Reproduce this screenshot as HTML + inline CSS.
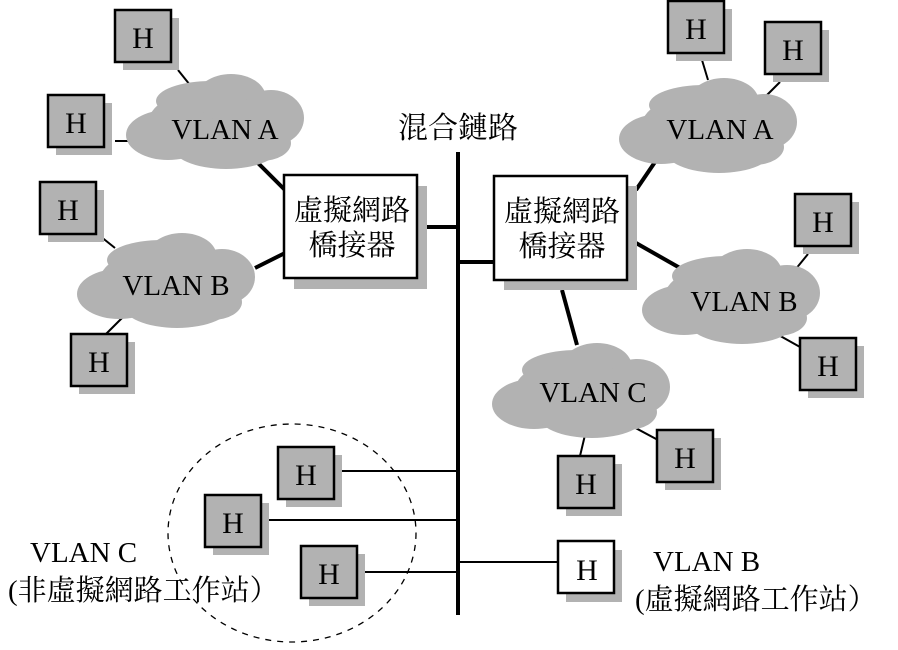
<!DOCTYPE html>
<html><head><meta charset="utf-8"><style>
body{margin:0;background:#fff;}
svg text{font-family:"Liberation Serif","Noto Serif CJK SC","Noto Sans CJK TC",serif;fill:#000;}
</style></head><body>
<svg width="898" height="645" viewBox="0 0 898 645" xmlns="http://www.w3.org/2000/svg">
<defs>
<g id="cloud" fill="#b2b2b2">
<ellipse cx="95" cy="48" rx="72" ry="33"/>
<ellipse cx="85" cy="28" rx="55" ry="20"/>
<ellipse cx="105" cy="25" rx="35" ry="24"/>
<ellipse cx="42" cy="62" rx="42" ry="25"/>
<ellipse cx="145" cy="45" rx="33" ry="28"/>
<ellipse cx="100" cy="72" rx="55" ry="24"/>
<ellipse cx="135" cy="70" rx="30" ry="18"/>
</g>
<g id="h">
<rect x="9" y="9" width="56" height="52" fill="#b2b2b2"/>
<rect x="1" y="1" width="56" height="52" fill="#b2b2b2" stroke="#000" stroke-width="2.5"/>
<text x="29" y="39" font-size="30" text-anchor="middle">H</text>
</g>
</defs>
<g stroke="#000" fill="none">
<g stroke-width="2">
<line x1="178" y1="70" x2="190" y2="85"/>
<line x1="115" y1="141" x2="130" y2="141"/>
<line x1="95" y1="232" x2="115" y2="248"/>
<line x1="105" y1="335" x2="125" y2="315"/>
<line x1="702" y1="60" x2="708" y2="80"/>
<line x1="780" y1="82" x2="766" y2="96"/>
<line x1="808" y1="254" x2="795" y2="270"/>
<line x1="775" y1="333" x2="800" y2="347"/>
<line x1="630" y1="425" x2="658" y2="440"/>
<line x1="585" y1="435" x2="580" y2="456"/>
<line x1="336" y1="471" x2="458" y2="471"/>
<line x1="263" y1="520" x2="458" y2="520"/>
<line x1="359" y1="572" x2="458" y2="572"/>
<line x1="458" y1="562" x2="558" y2="562"/>
</g>
<g stroke-width="4">
<line x1="255" y1="160" x2="285" y2="190"/>
<line x1="255" y1="268" x2="285" y2="253"/>
<line x1="417" y1="227" x2="458" y2="227"/>
<line x1="458" y1="262" x2="495" y2="262"/>
<line x1="655" y1="162" x2="636" y2="190"/>
<line x1="636" y1="243" x2="680" y2="268"/>
<line x1="562" y1="290" x2="577" y2="345"/>
<line x1="458" y1="152" x2="458" y2="615"/>
</g>
</g>
<use href="#cloud" transform="translate(126,73)"/>
<use href="#cloud" transform="translate(77,232)"/>
<use href="#cloud" transform="translate(619,77)"/>
<use href="#cloud" transform="translate(642,248)"/>
<use href="#cloud" transform="translate(492,342)"/>
<g font-size="29" text-anchor="middle">
<text x="225" y="139">VLAN A</text>
<text x="176" y="295">VLAN B</text>
<text x="720" y="139">VLAN A</text>
<text x="744" y="311">VLAN B</text>
<text x="593" y="402">VLAN C</text>
</g>
<rect x="294" y="186" width="133" height="103" fill="#b2b2b2"/>
<rect x="284" y="175" width="133" height="103" fill="#fff" stroke="#000" stroke-width="2.5"/>
<rect x="504" y="186" width="133" height="104" fill="#b2b2b2"/>
<rect x="494" y="176" width="133" height="104" fill="#fff" stroke="#000" stroke-width="2.5"/>
<g font-size="29" text-anchor="middle">
<text x="352" y="220">虛擬網路</text>
<text x="352" y="255">橋接器</text>
<text x="562" y="221">虛擬網路</text>
<text x="562" y="256">橋接器</text>
<text x="458" y="138" font-size="30">混合鏈路</text>
</g>
<use href="#h" transform="translate(114,9)"/>
<use href="#h" transform="translate(47,94)"/>
<use href="#h" transform="translate(39,181)"/>
<use href="#h" transform="translate(70,333)"/>
<use href="#h" transform="translate(667,0)"/>
<use href="#h" transform="translate(764,21)"/>
<use href="#h" transform="translate(794,193)"/>
<use href="#h" transform="translate(799,337)"/>
<use href="#h" transform="translate(656,429)"/>
<use href="#h" transform="translate(557,455)"/>
<use href="#h" transform="translate(277,446)"/>
<use href="#h" transform="translate(204,494)"/>
<use href="#h" transform="translate(300,545)"/>
<rect x="566" y="550" width="56" height="52" fill="#b2b2b2"/>
<rect x="558" y="541" width="56" height="52" fill="#fff" stroke="#000" stroke-width="2.5"/>
<text x="587" y="580" font-size="30" text-anchor="middle">H</text>
<ellipse cx="292" cy="533" rx="124" ry="109" fill="none" stroke="#000" stroke-width="1.3" stroke-dasharray="6,6"/>
<g font-size="29">
<text x="30" y="562">VLAN C</text>
<text x="8" y="600">(非虛擬網路工作站）</text>
<text x="653" y="571">VLAN B</text>
<text x="635" y="609">(虛擬網路工作站）</text>
</g>
</svg>
</body></html>
